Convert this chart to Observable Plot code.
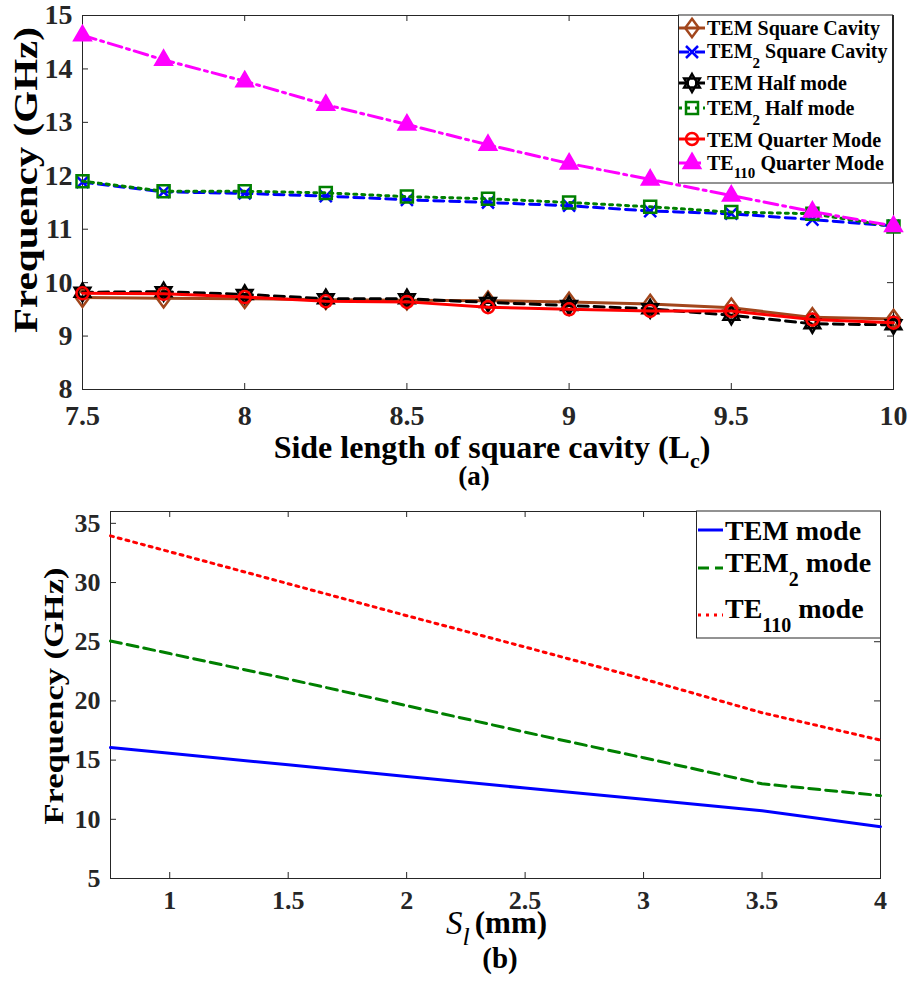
<!DOCTYPE html>
<html><head><meta charset="utf-8">
<script src="https://cdn.jsdelivr.net/npm/d3@7"></script>
<script src="https://cdn.jsdelivr.net/npm/@observablehq/plot@0.6"></script>
<style>
body{margin:0;background:#fff;}
#wrap{position:relative;width:909px;height:981px;overflow:hidden;}
#wrap > svg{position:absolute;left:0;}
</style></head><body><div id="wrap"></div>
<script>
// ---------- Panel (a) data ----------
const Lc = [7.5, 7.75, 8, 8.25, 8.5, 8.75, 9, 9.25, 9.5, 9.75, 10];
const temSquare    = [9.72, 9.71, 9.70, 9.68, 9.67, 9.66, 9.64, 9.60, 9.53, 9.35, 9.32];
const tem2Square   = [11.88, 11.70, 11.67, 11.62, 11.55, 11.50, 11.44, 11.34, 11.29, 11.18, 11.06];
const temHalf      = [9.82, 9.83, 9.78, 9.70, 9.70, 9.63, 9.57, 9.51, 9.39, 9.23, 9.21];
const tem2Half     = [11.90, 11.71, 11.71, 11.68, 11.61, 11.57, 11.50, 11.42, 11.32, 11.29, 11.05];
const temQuarter   = [9.80, 9.79, 9.73, 9.65, 9.64, 9.54, 9.50, 9.47, 9.47, 9.31, 9.25];
const te110Quarter = [14.63, 14.17, 13.77, 13.33, 12.96, 12.58, 12.23, 11.93, 11.63, 11.33, 11.06];
const namesA = ["TEM Square Cavity", "TEM2 Square Cavity", "TEM Half mode", "TEM2 Half mode", "TEM Quarter Mode", "TE110 Quarter Mode"];
const xTicksA = [7.5, 8, 8.5, 9, 9.5, 10];
const yTicksA = [8, 9, 10, 11, 12, 13, 14, 15];

// ---------- Panel (b) data ----------
const Sl = [0.75, 1, 1.5, 2, 2.5, 3, 3.5, 4];
const temMode   = [16.06, 15.57, 14.60, 13.62, 12.64, 11.70, 10.73, 9.38];
const tem2Mode  = [25.06, 24.00, 21.85, 19.60, 17.36, 15.20, 13.00, 12.00];
const te110Mode = [33.94, 32.60, 29.90, 27.20, 24.55, 21.85, 19.00, 16.69];
const namesB = ["TEM mode", "TEM2 mode", "TE110 mode"];
const xTicksB = [1, 1.5, 2, 2.5, 3, 3.5, 4];
const yTicksB = [5, 10, 15, 20, 25, 30, 35];

const FONT = "Liberation Serif";

// ---------- symbols ----------
function sym(fn){ return {draw(ctx, size){ const r = Math.sqrt(size/Math.PI); fn(ctx, r); }}; }
const diamondSym = sym((c,r)=>{c.moveTo(0,-r*1.15);c.lineTo(r*0.85,0);c.lineTo(0,r*1.15);c.lineTo(-r*0.85,0);c.closePath();});
const timesSym = sym((c,r)=>{c.moveTo(-r,-r);c.lineTo(r,r);c.moveTo(r,-r);c.lineTo(-r,r);});
const hexSym = sym((c,r)=>{
  for (const off of [-90, 90]) {
    for (let k=0;k<3;k++){ const a=(off+k*120)*Math.PI/180; const px=r*Math.cos(a), py=r*Math.sin(a); k?c.lineTo(px,py):c.moveTo(px,py); }
    c.closePath();
  }
});
const squareSym = sym((c,r)=>{c.moveTo(-r,-r);c.lineTo(r,-r);c.lineTo(r,r);c.lineTo(-r,r);c.closePath();});
const circleSym = sym((c,r)=>{c.moveTo(r,0);c.arc(0,0,r,0,2*Math.PI);c.closePath();});
const triSym = sym((c,r)=>{c.moveTo(0,-r);c.lineTo(r*0.9,r*0.55);c.lineTo(-r*0.9,r*0.55);c.closePath();});

const brown = "#A2461C", blue = "#0000FF", black = "#000000", green = "#008000", red = "#FF0000", magenta = "#FF00FF";

const styleA = [
  {values: temSquare,    color: brown,   dash: undefined,    symbol: diamondSym, r: 8, fill: "none"},
  {values: tem2Square,   color: blue,    dash: "10,6",       symbol: timesSym,   r: 6, fill: "none"},
  {values: temHalf,      color: black,   dash: "10,6",       symbol: hexSym,     r: 9, fill: "none"},
  {values: tem2Half,     color: green,   dash: "3,5",        symbol: squareSym,  r: 6, fill: "none"},
  {values: temQuarter,   color: red,     dash: undefined,    symbol: circleSym,  r: 6, fill: "none"},
  {values: te110Quarter, color: magenta, dash: "14,5,3,5",   symbol: triSym,     r: 9, fill: magenta}
];
const rowsA = styleA.flatMap((s,i)=> Lc.map((x,j)=>({series:i, x, y:s.values[j]})));

const styleB = [
  {values: temMode,   color: blue,  dash: undefined},
  {values: tem2Mode,  color: green, dash: "11,6"},
  {values: te110Mode, color: red,   dash: "3,5"}
];
const rowsB = styleB.flatMap((s,i)=> Sl.map((x,j)=>({series:i, x, y:s.values[j]})));

const axisColor = "#262626";
const wrap = document.getElementById("wrap");

function fixFont(svg, size) {
  d3.select(svg).attr("font-family", FONT).style("font-family", FONT);
  d3.select(svg).selectAll("text, tspan, g").attr("font-family", FONT).attr("font-weight", "bold");
  d3.select(svg).selectAll("text").style("font-family", FONT).style("font-weight", "bold").style("font-size", size + "px");
}

// ---------- Panel (a) ----------
{
  const W=909, H=490, mL=82, mR=16, mT=15, mB=101;
  const pw=W-mL-mR, ph=H-mT-mB;
  const marks = [
    Plot.frame({stroke: axisColor, strokeWidth: 1}),
    Plot.tickX(xTicksA, {x: d=>d, insetTop: ph-6, stroke: axisColor}),
    Plot.tickX(xTicksA, {x: d=>d, insetBottom: ph-6, stroke: axisColor}),
    Plot.tickY(yTicksA, {y: d=>d, insetRight: pw-6, stroke: axisColor}),
    Plot.tickY(yTicksA, {y: d=>d, insetLeft: pw-6, stroke: axisColor}),
    ...styleA.flatMap((s,i)=>{
      const d = rowsA.filter(r=>r.series===i);
      return [
        Plot.line(d, {x:"x", y:"y", stroke: s.color, strokeWidth: 3, strokeDasharray: s.dash}),
        Plot.dot(d, {x:"x", y:"y", symbol: s.symbol, r: s.r, stroke: s.color, fill: s.fill, strokeWidth: 2.5})
      ];
    })
  ];
  const svg = Plot.plot({
    width: W, height: H, marginLeft: mL, marginRight: mR, marginTop: mT, marginBottom: mB,
    style: {fontFamily: FONT, fontWeight: "bold", fontSize: "28px", color: axisColor, background: "transparent", overflow: "visible"},
    x: {domain: [7.5, 10], ticks: xTicksA, tickSize: 0, tickPadding: 16, tickFormat: d=>String(d), label: null},
    y: {domain: [8, 15], ticks: yTicksA, tickSize: 0, tickPadding: 10, tickFormat: d=>String(d), label: null},
    marks
  });
  fixFont(svg, 28);
  svg.style.top = "0px";
  wrap.appendChild(svg);
}

// ---------- Panel (b) ----------
{
  const W=909, H=491, mL=110, mR=29, mT=21, mB=103;
  const pw=W-mL-mR, ph=H-mT-mB;
  const marks = [
    Plot.frame({stroke: axisColor, strokeWidth: 1}),
    Plot.tickX(xTicksB, {x: d=>d, insetTop: ph-6, stroke: axisColor}),
    Plot.tickX(xTicksB, {x: d=>d, insetBottom: ph-6, stroke: axisColor}),
    Plot.tickY(yTicksB, {y: d=>d, insetRight: pw-6, stroke: axisColor}),
    Plot.tickY(yTicksB, {y: d=>d, insetLeft: pw-6, stroke: axisColor}),
    ...styleB.map((s,i)=> Plot.line(rowsB.filter(r=>r.series===i), {x:"x", y:"y", stroke: s.color, strokeWidth: 3, strokeDasharray: s.dash}))
  ];
  const svg = Plot.plot({
    width: W, height: H, marginLeft: mL, marginRight: mR, marginTop: mT, marginBottom: mB,
    style: {fontFamily: FONT, fontWeight: "bold", fontSize: "26px", color: axisColor, background: "transparent", overflow: "visible"},
    x: {domain: [0.75, 4], ticks: xTicksB, tickSize: 0, tickPadding: 12, tickFormat: d=>String(d), label: null},
    y: {domain: [5, 36], ticks: yTicksB, tickSize: 0, tickPadding: 10, tickFormat: d=>String(d), label: null},
    marks
  });
  fixFont(svg, 26);
  svg.style.top = "490px";
  wrap.appendChild(svg);
}

// ---------- Labels & legends overlay ----------
const ov = d3.create("svg").attr("width", 909).attr("height", 981)
  .style("position","absolute").style("left","0px").style("top","0px")
  .attr("font-family", FONT).attr("font-weight","bold").attr("fill","#000");

function txt(g, x, y, size) {
  return g.append("text").attr("x", x).attr("y", y).attr("font-size", size)
    .attr("font-family", FONT).attr("font-weight", "bold");
}
function richText(g, name, x, y, size, subSize, dy) {
  const m = name.match(/^(TEM|TE)(2|110)(.*)$/);
  const t = txt(g, x, y, size);
  if (m) {
    t.append("tspan").text(m[1]);
    t.append("tspan").attr("dy", dy).attr("font-size", subSize).text(m[2]);
    t.append("tspan").attr("dy", -dy).text(m[3]);
  } else t.text(name);
  return t;
}

// y labels
txt(ov, 0, 0, 33).attr("x", null).attr("y", null).attr("transform","translate(37,180) rotate(-90)").attr("text-anchor","middle")
  .attr("textLength",306).attr("lengthAdjust","spacingAndGlyphs").text("Frequency (GHz)");
txt(ov, 0, 0, 28).attr("x", null).attr("y", null).attr("transform","translate(63,696) rotate(-90)").attr("text-anchor","middle")
  .attr("textLength",257).attr("lengthAdjust","spacingAndGlyphs").text("Frequency (GHz)");

// x label (a)
{
  const t = txt(ov, 492, 458, 32).attr("text-anchor","middle");
  t.append("tspan").text("Side length of square cavity (L");
  t.append("tspan").attr("dy",10).attr("font-size",22).text("c");
  t.append("tspan").attr("dy",-10).text(")");
  txt(ov, 474, 485, 27).attr("text-anchor","middle").text("(a)");
}
// x label (b)
{
  const t = txt(ov, 446, 934, 33);
  t.append("tspan").attr("font-style","italic").attr("font-weight","normal").text("S");
  t.append("tspan").attr("dy",11).attr("font-size",26).attr("font-style","italic").attr("font-weight","normal").text("l");
  t.append("tspan").attr("dy",-12).attr("dx",5).attr("font-size",31).text("(mm)");
  txt(ov, 500, 968, 29).attr("text-anchor","middle").text("(b)");
}

// Legend (a)
{
  const g = ov.append("g");
  g.append("rect").attr("x",678.5).attr("y",15).attr("width",214).attr("height",168).attr("fill","#fff").attr("stroke",axisColor).attr("stroke-width",1);
  const my = [28, 52, 83, 108, 139, 163];
  const by = [35, 58, 90, 115, 146.5, 170];
  styleA.forEach((s,i)=>{
    g.append("line").attr("x1",679).attr("x2",705).attr("y1",my[i]).attr("y2",my[i])
      .attr("stroke",s.color).attr("stroke-width",3).attr("stroke-dasharray", s.dash || null);
    g.append("path").attr("transform",`translate(692,${my[i]})`)
      .attr("d", d3.symbol(s.symbol, s.r*s.r*Math.PI)())
      .attr("stroke",s.color).attr("stroke-width",2.5).attr("fill",s.fill);
    richText(g, namesA[i], 707, by[i], 20, 15, i===5 ? 8 : 10);
  });
}
// Legend (b)
{
  const g = ov.append("g");
  g.append("rect").attr("x",696.5).attr("y",511).attr("width",184).attr("height",127).attr("fill","#fff").attr("stroke",axisColor).attr("stroke-width",1);
  const ly = [530, 568, 615];
  const by = [540, 572, 618];
  styleB.forEach((s,i)=>{
    g.append("line").attr("x1",698).attr("x2",723).attr("y1",ly[i]).attr("y2",ly[i])
      .attr("stroke",s.color).attr("stroke-width",3).attr("stroke-dasharray", s.dash || null);
    richText(g, namesB[i], 725, by[i], 28, 20, 14);
  });
}
wrap.appendChild(ov.node());
</script></body></html>
